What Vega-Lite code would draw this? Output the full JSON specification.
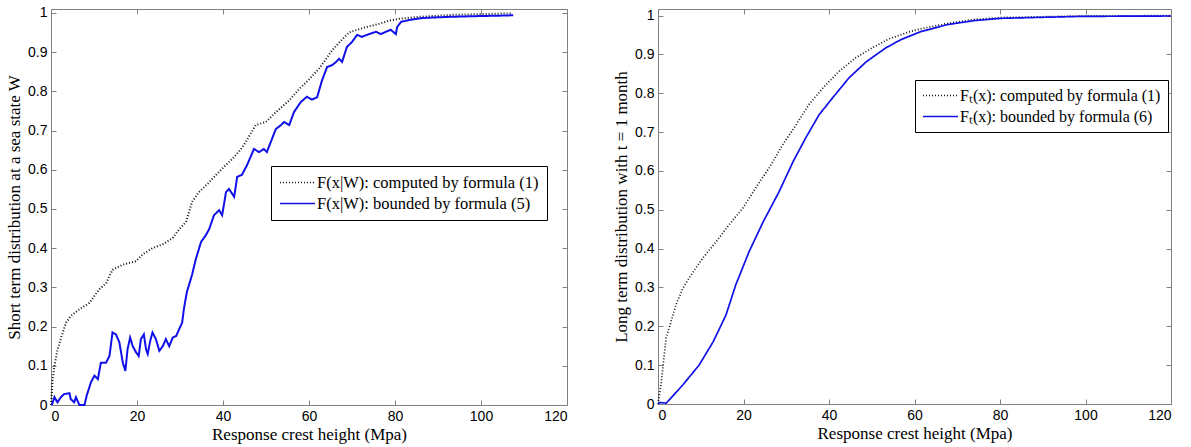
{
  "$schema": "https://vega.github.io/schema/vega-lite/v6.json",
  "padding": {"left": 5, "top": 5, "right": 5, "bottom": 5},
  "spacing": 44,
  "background": "white",
  "config": {
    "view": {"stroke": null},
    "axis": {
      "domainColor": "#808080", "tickColor": "#808080", "tickSize": -5, "format": "~r",
      "labelFont": "Liberation Sans", "labelFontSize": 14, "labelColor": "black",
      "titleFont": "Liberation Serif", "titleFontSize": 17, "titleFontWeight": "normal", "titleColor": "black",
      "grid": false, "labelPadding": 9
    },
    "legend": {
      "orient": "none", "direction": "vertical", "title": null,
      "strokeColor": "black", "fillColor": "white", "padding": 8,
      "labelFont": "Liberation Serif", "labelFontSize": 16.5, "labelColor": "black", "labelLimit": 400,
      "symbolType": "stroke", "symbolSize": 1225, "symbolStrokeWidth": 1.6, "labelOffset": 1,
      "clipHeight": 17, "rowPadding": 4
    }
  },
  "datasets": {
    "left": [
      {"x": 0, "y": 0, "s": "F(x|W): computed by formula (1)"},
      {"x": 0.4, "y": 0.066, "s": "F(x|W): computed by formula (1)"},
      {"x": 0.8, "y": 0.1, "s": "F(x|W): computed by formula (1)"},
      {"x": 1.5, "y": 0.14, "s": "F(x|W): computed by formula (1)"},
      {"x": 2.3, "y": 0.17, "s": "F(x|W): computed by formula (1)"},
      {"x": 3.5, "y": 0.21, "s": "F(x|W): computed by formula (1)"},
      {"x": 4.6, "y": 0.227, "s": "F(x|W): computed by formula (1)"},
      {"x": 6.6, "y": 0.244, "s": "F(x|W): computed by formula (1)"},
      {"x": 8.9, "y": 0.26, "s": "F(x|W): computed by formula (1)"},
      {"x": 11.2, "y": 0.295, "s": "F(x|W): computed by formula (1)"},
      {"x": 12.8, "y": 0.31, "s": "F(x|W): computed by formula (1)"},
      {"x": 14.3, "y": 0.345, "s": "F(x|W): computed by formula (1)"},
      {"x": 16.7, "y": 0.358, "s": "F(x|W): computed by formula (1)"},
      {"x": 19.8, "y": 0.367, "s": "F(x|W): computed by formula (1)"},
      {"x": 21.3, "y": 0.384, "s": "F(x|W): computed by formula (1)"},
      {"x": 23.6, "y": 0.4, "s": "F(x|W): computed by formula (1)"},
      {"x": 26, "y": 0.41, "s": "F(x|W): computed by formula (1)"},
      {"x": 28.3, "y": 0.426, "s": "F(x|W): computed by formula (1)"},
      {"x": 29.8, "y": 0.448, "s": "F(x|W): computed by formula (1)"},
      {"x": 31.4, "y": 0.467, "s": "F(x|W): computed by formula (1)"},
      {"x": 32.8, "y": 0.518, "s": "F(x|W): computed by formula (1)"},
      {"x": 34.4, "y": 0.543, "s": "F(x|W): computed by formula (1)"},
      {"x": 36.5, "y": 0.565, "s": "F(x|W): computed by formula (1)"},
      {"x": 38.3, "y": 0.586, "s": "F(x|W): computed by formula (1)"},
      {"x": 40.2, "y": 0.607, "s": "F(x|W): computed by formula (1)"},
      {"x": 42.2, "y": 0.628, "s": "F(x|W): computed by formula (1)"},
      {"x": 44, "y": 0.65, "s": "F(x|W): computed by formula (1)"},
      {"x": 45.3, "y": 0.671, "s": "F(x|W): computed by formula (1)"},
      {"x": 47.6, "y": 0.714, "s": "F(x|W): computed by formula (1)"},
      {"x": 50, "y": 0.722, "s": "F(x|W): computed by formula (1)"},
      {"x": 52.3, "y": 0.747, "s": "F(x|W): computed by formula (1)"},
      {"x": 55.4, "y": 0.777, "s": "F(x|W): computed by formula (1)"},
      {"x": 57.7, "y": 0.806, "s": "F(x|W): computed by formula (1)"},
      {"x": 60, "y": 0.83, "s": "F(x|W): computed by formula (1)"},
      {"x": 62.5, "y": 0.86, "s": "F(x|W): computed by formula (1)"},
      {"x": 65.4, "y": 0.905, "s": "F(x|W): computed by formula (1)"},
      {"x": 67.5, "y": 0.93, "s": "F(x|W): computed by formula (1)"},
      {"x": 69.3, "y": 0.95, "s": "F(x|W): computed by formula (1)"},
      {"x": 71.5, "y": 0.958, "s": "F(x|W): computed by formula (1)"},
      {"x": 74, "y": 0.966, "s": "F(x|W): computed by formula (1)"},
      {"x": 76.3, "y": 0.972, "s": "F(x|W): computed by formula (1)"},
      {"x": 78.5, "y": 0.98, "s": "F(x|W): computed by formula (1)"},
      {"x": 80.9, "y": 0.985, "s": "F(x|W): computed by formula (1)"},
      {"x": 85.6, "y": 0.99, "s": "F(x|W): computed by formula (1)"},
      {"x": 93.3, "y": 0.995, "s": "F(x|W): computed by formula (1)"},
      {"x": 100, "y": 0.997, "s": "F(x|W): computed by formula (1)"},
      {"x": 107.3, "y": 0.999, "s": "F(x|W): computed by formula (1)"},
      {"x": 0.2, "y": 0, "s": "F(x|W): bounded by formula (5)"},
      {"x": 0.8, "y": 0.02, "s": "F(x|W): bounded by formula (5)"},
      {"x": 1.5, "y": 0.007, "s": "F(x|W): bounded by formula (5)"},
      {"x": 2.3, "y": 0.02, "s": "F(x|W): bounded by formula (5)"},
      {"x": 3.1, "y": 0.028, "s": "F(x|W): bounded by formula (5)"},
      {"x": 4.3, "y": 0.03, "s": "F(x|W): bounded by formula (5)"},
      {"x": 4.6, "y": 0.015, "s": "F(x|W): bounded by formula (5)"},
      {"x": 5.4, "y": 0.007, "s": "F(x|W): bounded by formula (5)"},
      {"x": 5.8, "y": 0.02, "s": "F(x|W): bounded by formula (5)"},
      {"x": 6.6, "y": 0, "s": "F(x|W): bounded by formula (5)"},
      {"x": 7.8, "y": 0, "s": "F(x|W): bounded by formula (5)"},
      {"x": 8.3, "y": 0.024, "s": "F(x|W): bounded by formula (5)"},
      {"x": 9.3, "y": 0.058, "s": "F(x|W): bounded by formula (5)"},
      {"x": 10.1, "y": 0.075, "s": "F(x|W): bounded by formula (5)"},
      {"x": 10.9, "y": 0.066, "s": "F(x|W): bounded by formula (5)"},
      {"x": 11.6, "y": 0.108, "s": "F(x|W): bounded by formula (5)"},
      {"x": 12.8, "y": 0.108, "s": "F(x|W): bounded by formula (5)"},
      {"x": 13.6, "y": 0.125, "s": "F(x|W): bounded by formula (5)"},
      {"x": 14.3, "y": 0.185, "s": "F(x|W): bounded by formula (5)"},
      {"x": 15.1, "y": 0.18, "s": "F(x|W): bounded by formula (5)"},
      {"x": 15.9, "y": 0.16, "s": "F(x|W): bounded by formula (5)"},
      {"x": 16.7, "y": 0.108, "s": "F(x|W): bounded by formula (5)"},
      {"x": 17.3, "y": 0.087, "s": "F(x|W): bounded by formula (5)"},
      {"x": 17.8, "y": 0.142, "s": "F(x|W): bounded by formula (5)"},
      {"x": 18.4, "y": 0.172, "s": "F(x|W): bounded by formula (5)"},
      {"x": 19, "y": 0.15, "s": "F(x|W): bounded by formula (5)"},
      {"x": 19.8, "y": 0.134, "s": "F(x|W): bounded by formula (5)"},
      {"x": 20.4, "y": 0.125, "s": "F(x|W): bounded by formula (5)"},
      {"x": 20.9, "y": 0.168, "s": "F(x|W): bounded by formula (5)"},
      {"x": 21.6, "y": 0.18, "s": "F(x|W): bounded by formula (5)"},
      {"x": 22.1, "y": 0.142, "s": "F(x|W): bounded by formula (5)"},
      {"x": 22.5, "y": 0.13, "s": "F(x|W): bounded by formula (5)"},
      {"x": 23, "y": 0.16, "s": "F(x|W): bounded by formula (5)"},
      {"x": 23.6, "y": 0.185, "s": "F(x|W): bounded by formula (5)"},
      {"x": 24.4, "y": 0.168, "s": "F(x|W): bounded by formula (5)"},
      {"x": 25.2, "y": 0.138, "s": "F(x|W): bounded by formula (5)"},
      {"x": 26, "y": 0.15, "s": "F(x|W): bounded by formula (5)"},
      {"x": 26.7, "y": 0.168, "s": "F(x|W): bounded by formula (5)"},
      {"x": 27.5, "y": 0.15, "s": "F(x|W): bounded by formula (5)"},
      {"x": 28.3, "y": 0.172, "s": "F(x|W): bounded by formula (5)"},
      {"x": 29.1, "y": 0.176, "s": "F(x|W): bounded by formula (5)"},
      {"x": 29.8, "y": 0.193, "s": "F(x|W): bounded by formula (5)"},
      {"x": 30.5, "y": 0.21, "s": "F(x|W): bounded by formula (5)"},
      {"x": 30.9, "y": 0.245, "s": "F(x|W): bounded by formula (5)"},
      {"x": 31.6, "y": 0.288, "s": "F(x|W): bounded by formula (5)"},
      {"x": 32.8, "y": 0.332, "s": "F(x|W): bounded by formula (5)"},
      {"x": 33.7, "y": 0.373, "s": "F(x|W): bounded by formula (5)"},
      {"x": 34.9, "y": 0.416, "s": "F(x|W): bounded by formula (5)"},
      {"x": 36, "y": 0.433, "s": "F(x|W): bounded by formula (5)"},
      {"x": 36.8, "y": 0.449, "s": "F(x|W): bounded by formula (5)"},
      {"x": 37.9, "y": 0.484, "s": "F(x|W): bounded by formula (5)"},
      {"x": 39.1, "y": 0.497, "s": "F(x|W): bounded by formula (5)"},
      {"x": 39.8, "y": 0.484, "s": "F(x|W): bounded by formula (5)"},
      {"x": 40.7, "y": 0.543, "s": "F(x|W): bounded by formula (5)"},
      {"x": 41.4, "y": 0.551, "s": "F(x|W): bounded by formula (5)"},
      {"x": 42.6, "y": 0.531, "s": "F(x|W): bounded by formula (5)"},
      {"x": 43.3, "y": 0.582, "s": "F(x|W): bounded by formula (5)"},
      {"x": 44.4, "y": 0.587, "s": "F(x|W): bounded by formula (5)"},
      {"x": 45.6, "y": 0.612, "s": "F(x|W): bounded by formula (5)"},
      {"x": 47.2, "y": 0.653, "s": "F(x|W): bounded by formula (5)"},
      {"x": 48.4, "y": 0.645, "s": "F(x|W): bounded by formula (5)"},
      {"x": 49.5, "y": 0.653, "s": "F(x|W): bounded by formula (5)"},
      {"x": 50.2, "y": 0.645, "s": "F(x|W): bounded by formula (5)"},
      {"x": 51.4, "y": 0.679, "s": "F(x|W): bounded by formula (5)"},
      {"x": 52.3, "y": 0.704, "s": "F(x|W): bounded by formula (5)"},
      {"x": 53.5, "y": 0.714, "s": "F(x|W): bounded by formula (5)"},
      {"x": 54.2, "y": 0.722, "s": "F(x|W): bounded by formula (5)"},
      {"x": 55.4, "y": 0.714, "s": "F(x|W): bounded by formula (5)"},
      {"x": 56.5, "y": 0.747, "s": "F(x|W): bounded by formula (5)"},
      {"x": 58.1, "y": 0.773, "s": "F(x|W): bounded by formula (5)"},
      {"x": 59.5, "y": 0.786, "s": "F(x|W): bounded by formula (5)"},
      {"x": 60.7, "y": 0.779, "s": "F(x|W): bounded by formula (5)"},
      {"x": 61.9, "y": 0.785, "s": "F(x|W): bounded by formula (5)"},
      {"x": 63, "y": 0.827, "s": "F(x|W): bounded by formula (5)"},
      {"x": 64.2, "y": 0.862, "s": "F(x|W): bounded by formula (5)"},
      {"x": 65.4, "y": 0.867, "s": "F(x|W): bounded by formula (5)"},
      {"x": 66.3, "y": 0.875, "s": "F(x|W): bounded by formula (5)"},
      {"x": 67, "y": 0.883, "s": "F(x|W): bounded by formula (5)"},
      {"x": 67.7, "y": 0.875, "s": "F(x|W): bounded by formula (5)"},
      {"x": 68.8, "y": 0.913, "s": "F(x|W): bounded by formula (5)"},
      {"x": 70, "y": 0.926, "s": "F(x|W): bounded by formula (5)"},
      {"x": 71.2, "y": 0.944, "s": "F(x|W): bounded by formula (5)"},
      {"x": 72.3, "y": 0.939, "s": "F(x|W): bounded by formula (5)"},
      {"x": 74, "y": 0.946, "s": "F(x|W): bounded by formula (5)"},
      {"x": 75.6, "y": 0.952, "s": "F(x|W): bounded by formula (5)"},
      {"x": 76.7, "y": 0.946, "s": "F(x|W): bounded by formula (5)"},
      {"x": 77.9, "y": 0.952, "s": "F(x|W): bounded by formula (5)"},
      {"x": 79, "y": 0.957, "s": "F(x|W): bounded by formula (5)"},
      {"x": 80.2, "y": 0.946, "s": "F(x|W): bounded by formula (5)"},
      {"x": 80.5, "y": 0.964, "s": "F(x|W): bounded by formula (5)"},
      {"x": 81.4, "y": 0.977, "s": "F(x|W): bounded by formula (5)"},
      {"x": 83.3, "y": 0.982, "s": "F(x|W): bounded by formula (5)"},
      {"x": 86.3, "y": 0.987, "s": "F(x|W): bounded by formula (5)"},
      {"x": 92.6, "y": 0.99, "s": "F(x|W): bounded by formula (5)"},
      {"x": 99.6, "y": 0.992, "s": "F(x|W): bounded by formula (5)"},
      {"x": 104.2, "y": 0.993, "s": "F(x|W): bounded by formula (5)"},
      {"x": 107.5, "y": 0.994, "s": "F(x|W): bounded by formula (5)"}
    ],
    "right": [
      {"x": 0, "y": 0, "s": "Fₜ(x): computed by formula (1)"},
      {"x": 0.7, "y": 0.05, "s": "Fₜ(x): computed by formula (1)"},
      {"x": 1.2, "y": 0.1, "s": "Fₜ(x): computed by formula (1)"},
      {"x": 1.9, "y": 0.17, "s": "Fₜ(x): computed by formula (1)"},
      {"x": 3, "y": 0.21, "s": "Fₜ(x): computed by formula (1)"},
      {"x": 4.2, "y": 0.255, "s": "Fₜ(x): computed by formula (1)"},
      {"x": 5.8, "y": 0.298, "s": "Fₜ(x): computed by formula (1)"},
      {"x": 8.2, "y": 0.34, "s": "Fₜ(x): computed by formula (1)"},
      {"x": 10.5, "y": 0.376, "s": "Fₜ(x): computed by formula (1)"},
      {"x": 13.6, "y": 0.418, "s": "Fₜ(x): computed by formula (1)"},
      {"x": 16.6, "y": 0.461, "s": "Fₜ(x): computed by formula (1)"},
      {"x": 19.9, "y": 0.505, "s": "Fₜ(x): computed by formula (1)"},
      {"x": 22.9, "y": 0.557, "s": "Fₜ(x): computed by formula (1)"},
      {"x": 26, "y": 0.608, "s": "Fₜ(x): computed by formula (1)"},
      {"x": 29.2, "y": 0.668, "s": "Fₜ(x): computed by formula (1)"},
      {"x": 32.3, "y": 0.719, "s": "Fₜ(x): computed by formula (1)"},
      {"x": 35.3, "y": 0.771, "s": "Fₜ(x): computed by formula (1)"},
      {"x": 38.6, "y": 0.814, "s": "Fₜ(x): computed by formula (1)"},
      {"x": 42.3, "y": 0.856, "s": "Fₜ(x): computed by formula (1)"},
      {"x": 46.3, "y": 0.892, "s": "Fₜ(x): computed by formula (1)"},
      {"x": 50.3, "y": 0.918, "s": "Fₜ(x): computed by formula (1)"},
      {"x": 54, "y": 0.94, "s": "Fₜ(x): computed by formula (1)"},
      {"x": 58.7, "y": 0.958, "s": "Fₜ(x): computed by formula (1)"},
      {"x": 61.5, "y": 0.966, "s": "Fₜ(x): computed by formula (1)"},
      {"x": 67.8, "y": 0.98, "s": "Fₜ(x): computed by formula (1)"},
      {"x": 73.9, "y": 0.99, "s": "Fₜ(x): computed by formula (1)"},
      {"x": 80.2, "y": 0.995, "s": "Fₜ(x): computed by formula (1)"},
      {"x": 99, "y": 0.999, "s": "Fₜ(x): computed by formula (1)"},
      {"x": 120, "y": 1, "s": "Fₜ(x): computed by formula (1)"},
      {"x": 0, "y": 0, "s": "Fₜ(x): bounded by formula (6)"},
      {"x": 0.5, "y": 0.004, "s": "Fₜ(x): bounded by formula (6)"},
      {"x": 1.9, "y": 0.002, "s": "Fₜ(x): bounded by formula (6)"},
      {"x": 3, "y": 0.015, "s": "Fₜ(x): bounded by formula (6)"},
      {"x": 5.8, "y": 0.049, "s": "Fₜ(x): bounded by formula (6)"},
      {"x": 9.6, "y": 0.1, "s": "Fₜ(x): bounded by formula (6)"},
      {"x": 12.9, "y": 0.16, "s": "Fₜ(x): bounded by formula (6)"},
      {"x": 15.9, "y": 0.229, "s": "Fₜ(x): bounded by formula (6)"},
      {"x": 18.2, "y": 0.307, "s": "Fₜ(x): bounded by formula (6)"},
      {"x": 21.3, "y": 0.392, "s": "Fₜ(x): bounded by formula (6)"},
      {"x": 24.6, "y": 0.469, "s": "Fₜ(x): bounded by formula (6)"},
      {"x": 28.3, "y": 0.546, "s": "Fₜ(x): bounded by formula (6)"},
      {"x": 31.6, "y": 0.624, "s": "Fₜ(x): bounded by formula (6)"},
      {"x": 34.6, "y": 0.686, "s": "Fₜ(x): bounded by formula (6)"},
      {"x": 37.7, "y": 0.745, "s": "Fₜ(x): bounded by formula (6)"},
      {"x": 40.9, "y": 0.789, "s": "Fₜ(x): bounded by formula (6)"},
      {"x": 44.7, "y": 0.84, "s": "Fₜ(x): bounded by formula (6)"},
      {"x": 48.7, "y": 0.881, "s": "Fₜ(x): bounded by formula (6)"},
      {"x": 53.3, "y": 0.917, "s": "Fₜ(x): bounded by formula (6)"},
      {"x": 56.8, "y": 0.938, "s": "Fₜ(x): bounded by formula (6)"},
      {"x": 61.5, "y": 0.959, "s": "Fₜ(x): bounded by formula (6)"},
      {"x": 67.8, "y": 0.977, "s": "Fₜ(x): bounded by formula (6)"},
      {"x": 73.9, "y": 0.987, "s": "Fₜ(x): bounded by formula (6)"},
      {"x": 80.2, "y": 0.993, "s": "Fₜ(x): bounded by formula (6)"},
      {"x": 99, "y": 0.998, "s": "Fₜ(x): bounded by formula (6)"},
      {"x": 120, "y": 0.999, "s": "Fₜ(x): bounded by formula (6)"}
    ]
  },
  "resolve": {"scale": {"color": "independent", "strokeDash": "independent"}, "legend": {"color": "independent", "strokeDash": "independent"}},
  "hconcat": [
    {
      "width": 516, "height": 396,
      "data": {"name": "left"},
      "resolve": {"axis": {"x": "independent", "y": "independent"}},
      "layer": [
        {
          "mark": {"type": "line", "strokeWidth": 2},
          "encoding": {
            "x": {"field": "x", "type": "quantitative", "scale": {"domain": [0, 120], "nice": false}, "axis": {"values": [0, 20, 40, 60, 80, 100, 120], "title": "Response crest height (Mpa)", "titlePadding": 3}},
            "y": {"field": "y", "type": "quantitative", "scale": {"domain": [0, 1.01], "nice": false}, "axis": {"values": [0, 0.1, 0.2, 0.3, 0.4, 0.5, 0.6, 0.7, 0.8, 0.9, 1], "title": "Short term distribution at a sea state W", "titlePadding": 4}},
            "color": {"field": "s", "type": "nominal", "scale": {"domain": ["F(x|W): computed by formula (1)", "F(x|W): bounded by formula (5)"], "range": ["#111111", "#1010e8"]}, "legend": {"legendX": 220, "legendY": 157}},
            "strokeDash": {"field": "s", "type": "nominal", "scale": {"domain": ["F(x|W): computed by formula (1)", "F(x|W): bounded by formula (5)"], "range": [[1, 2], [1, 0]]}, "legend": {"legendX": 220, "legendY": 157}}
          }
        },
        {
          "mark": {"type": "line", "opacity": 0},
          "encoding": {
            "x": {"field": "x", "type": "quantitative", "axis": {"orient": "top", "values": [0, 20, 40, 60, 80, 100, 120], "labels": false, "title": null}},
            "y": {"field": "y", "type": "quantitative", "axis": {"orient": "right", "values": [0, 0.1, 0.2, 0.3, 0.4, 0.5, 0.6, 0.7, 0.8, 0.9, 1], "labels": false, "title": null}},
            "detail": {"field": "s"}
          }
        }
      ]
    },
    {
      "width": 513, "height": 395,
      "data": {"name": "right"},
      "resolve": {"axis": {"x": "independent", "y": "independent"}},
      "layer": [
        {
          "mark": {"type": "line", "strokeWidth": 1.7},
          "encoding": {
            "x": {"field": "x", "type": "quantitative", "scale": {"domain": [0, 120], "nice": false}, "axis": {"values": [0, 20, 40, 60, 80, 100, 120], "title": "Response crest height (Mpa)", "titlePadding": 3}},
            "y": {"field": "y", "type": "quantitative", "scale": {"domain": [0, 1.017], "nice": false}, "axis": {"values": [0, 0.1, 0.2, 0.3, 0.4, 0.5, 0.6, 0.7, 0.8, 0.9, 1], "title": "Long term distribution with t = 1 month", "titlePadding": 4}},
            "color": {"field": "s", "type": "nominal", "scale": {"domain": ["Fₜ(x): computed by formula (1)", "Fₜ(x): bounded by formula (6)"], "range": ["#111111", "#1010e8"]}, "legend": {"legendX": 257, "legendY": 71, "labelFontSize": 16, "padding": 7}},
            "strokeDash": {"field": "s", "type": "nominal", "scale": {"domain": ["Fₜ(x): computed by formula (1)", "Fₜ(x): bounded by formula (6)"], "range": [[1, 2], [1, 0]]}, "legend": {"legendX": 257, "legendY": 71, "labelFontSize": 16, "padding": 7}}
          }
        },
        {
          "mark": {"type": "line", "opacity": 0},
          "encoding": {
            "x": {"field": "x", "type": "quantitative", "axis": {"orient": "top", "values": [0, 20, 40, 60, 80, 100, 120], "labels": false, "title": null}},
            "y": {"field": "y", "type": "quantitative", "axis": {"orient": "right", "values": [0, 0.1, 0.2, 0.3, 0.4, 0.5, 0.6, 0.7, 0.8, 0.9, 1], "labels": false, "title": null}},
            "detail": {"field": "s"}
          }
        }
      ]
    }
  ]
}
